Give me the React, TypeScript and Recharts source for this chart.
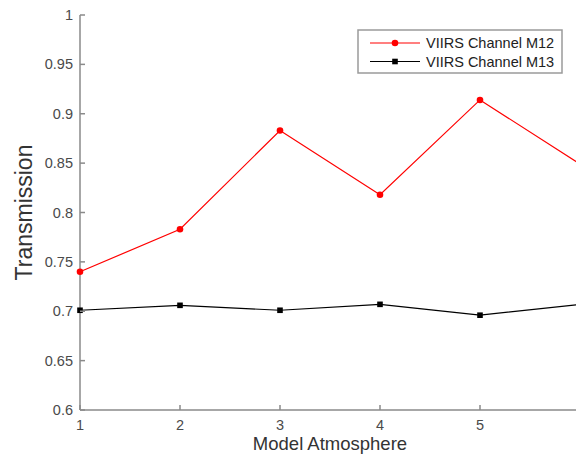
import React from 'react';
import { LineChart, Line, XAxis, YAxis } from 'recharts';

// model atmosphere index
const atmospheres = [1, 2, 3, 4, 5, 6];
const m12 = [0.74, 0.783, 0.883, 0.818, 0.914, 0.849];
const m13 = [0.701, 0.706, 0.701, 0.707, 0.696, 0.707];
const xTicks = [1, 2, 3, 4, 5, 6];
const yTicks = [0.6, 0.65, 0.7, 0.75, 0.8, 0.85, 0.9, 0.95, 1];

const seriesNames = ['VIIRS Channel M12', 'VIIRS Channel M13'];
const seriesColors = ['#ff0000', '#000000'];

const data = atmospheres.map((a, i) => ({ atm: a, m12: m12[i], m13: m13[i] }));

const FONT = 'Arial, "Liberation Sans", Helvetica, sans-serif';
const AXIS = '#8a8a8a';
const TICK_TEXT = '#4a4a4a';

const YTick = (props: any) => {
    const { x, y, payload } = props;
    return (
        <g>
            <line x1={x} y1={y} x2={x + 5} y2={y} stroke={AXIS} strokeWidth={1.5} />
            <text x={x - 7} y={y} dy="0.35em" textAnchor="end" fontSize={14.5} fontFamily={FONT} fill={TICK_TEXT}>
                {String(payload.value)}
            </text>
        </g>
    );
};

const XTick = (props: any) => {
    const { x, y, payload } = props;
    return (
        <g>
            <line x1={x} y1={y} x2={x} y2={y - 5} stroke={AXIS} strokeWidth={1.5} />
            <text x={x} y={y + 15} dy="0.35em" textAnchor="middle" fontSize={14.5} fontFamily={FONT} fill={TICK_TEXT}>
                {String(payload.value)}
            </text>
        </g>
    );
};

const SquareDot = (props: any) => {
    const { cx, cy, index } = props;
    return <rect key={`sq-${index}`} x={cx - 2.8} y={cy - 2.8} width={5.6} height={5.6} fill="#000" />;
};

const Legend = () => (
    <svg width={206} height={45} style={{ position: 'absolute', left: 357, top: 29 }}>
        <rect x={1} y={1} width={204} height={43} fill="#fff" stroke="#9a9a9a" strokeWidth={1.5} />
        {seriesNames.map((name, i) => {
            const cy = 14 + i * 18.5;
            return (
                <g key={name}>
                    <line x1={13} y1={cy} x2={63} y2={cy} stroke={seriesColors[i]} strokeWidth={1.2} />
                    {i === 0
                        ? <circle cx={38} cy={cy} r={3.3} fill={seriesColors[i]} />
                        : <rect x={35.2} y={cy - 2.8} width={5.6} height={5.6} fill={seriesColors[i]} />}
                    <text x={69} y={cy} dy="0.35em" fontSize={14.5} fontFamily={FONT} fill="#222">{name}</text>
                </g>
            );
        })}
    </svg>
);

export default function App() {
    return (
        <div style={{ position: 'absolute', left: 0, top: 0, width: 576, height: 457, overflow: 'hidden', background: '#fff' }}>
            <LineChart width={640} height={457} data={data} margin={{ top: 15, right: 60, left: 0, bottom: 0 }}>
                <XAxis
                    dataKey="atm"
                    type="number"
                    domain={[1, 6]}
                    ticks={xTicks}
                    height={47}
                    tickSize={0}
                    tickMargin={0}
                    tickLine={false}
                    axisLine={{ stroke: AXIS, strokeWidth: 1.5 }}
                    tick={<XTick />}
                    label={{
                        content: (p: any) => {
                            const vb = p.viewBox;
                            return (
                                <text x={vb.x + vb.width / 2} y={444} dy="0.35em" textAnchor="middle" fontSize={18.5} fontFamily={FONT} fill="#333">
                                    Model Atmosphere
                                </text>
                            );
                        },
                    }}
                />
                <YAxis
                    type="number"
                    domain={[0.6, 1]}
                    ticks={yTicks}
                    width={80}
                    tickSize={0}
                    tickMargin={0}
                    tickLine={false}
                    axisLine={{ stroke: AXIS, strokeWidth: 1.5 }}
                    tick={<YTick />}
                    label={{
                        content: (p: any) => {
                            const vb = p.viewBox;
                            const cy = vb.y + vb.height / 2;
                            return (
                                <text x={24} y={cy} dy="0.35em" textAnchor="middle" fontSize={23} fontFamily={FONT} fill="#333"
                                    transform={`rotate(-90, 24, ${cy})`}>
                                    Transmission
                                </text>
                            );
                        },
                    }}
                />
                <Line dataKey="m12" name={seriesNames[0]} stroke={seriesColors[0]} strokeWidth={1.2}
                    dot={{ r: 3.3, fill: seriesColors[0], stroke: 'none' }} isAnimationActive={false} />
                <Line dataKey="m13" name={seriesNames[1]} stroke={seriesColors[1]} strokeWidth={1.2}
                    dot={<SquareDot />} isAnimationActive={false} />
            </LineChart>
            <Legend />
        </div>
    );
}
